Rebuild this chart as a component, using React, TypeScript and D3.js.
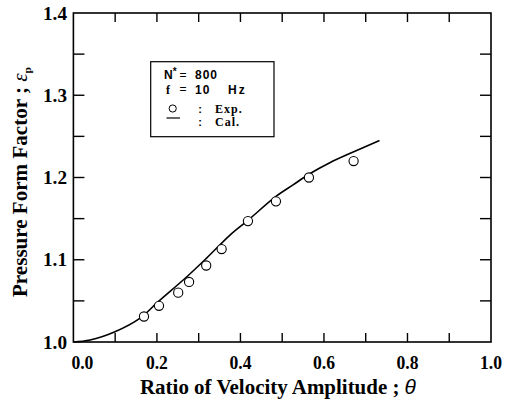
import React from "react";
import * as d3 from "d3";

const xTicks = [0, 0.2, 0.4, 0.6, 0.8, 1.0];
const yTicks = [1.0, 1.1, 1.2, 1.3, 1.4];
const xMinor = [0.1, 0.2, 0.3, 0.4, 0.5, 0.6, 0.7, 0.8, 0.9];
const yMinor = [1.05, 1.1, 1.15, 1.2, 1.25, 1.3, 1.35];

const expTheta = [0.169, 0.205, 0.251, 0.277, 0.318, 0.355, 0.418, 0.485, 0.564, 0.671];
const expEps = [1.031, 1.044, 1.060, 1.073, 1.093, 1.113, 1.147, 1.171, 1.200, 1.220];

const calTheta = [0, 0.04, 0.0995, 0.159, 0.203, 0.271, 0.319, 0.375, 0.418, 0.485, 0.526, 0.564, 0.614, 0.670, 0.733];
const calEps = [1.0, 1.0024, 1.0125, 1.0288, 1.049, 1.079, 1.102, 1.130, 1.148, 1.177, 1.191, 1.204, 1.218, 1.231, 1.245];

const W = 509, H = 399;
const L = 73.4, R = 491, T = 13, B = 342;

export default function App() {
  const x = d3.scaleLinear().domain([0, 1]).range([L, R]);
  const y = d3.scaleLinear().domain([1.0, 1.4]).range([B, T]);
  const line = d3
    .line<number>()
    .x((_, i) => x(calTheta[i]))
    .y((_, i) => y(calEps[i]))
    .curve(d3.curveCatmullRom.alpha(0.5));
  const tickLen = 9;
  const serif = "'Liberation Serif', 'DejaVu Serif', serif";
  const sans = "'Liberation Sans', Arial, sans-serif";
  return (
    <svg width={W} height={H} style={{ position: "absolute", left: 0, top: 0, background: "#fff" }}>
      <rect x={0} y={0} width={W} height={H} fill="#fff" />
      {/* frame */}
      <rect x={L} y={T} width={R - L} height={B - T} fill="none" stroke="#000" strokeWidth={1.6} />
      {/* ticks */}
      {xMinor.map((v) => (
        <g key={"xt" + v}>
          <line x1={x(v)} x2={x(v)} y1={B} y2={B - tickLen} stroke="#000" strokeWidth={1.4} />
          <line x1={x(v)} x2={x(v)} y1={T} y2={T + tickLen} stroke="#000" strokeWidth={1.4} />
        </g>
      ))}
      {yMinor.map((v) => (
        <g key={"yt" + v}>
          <line x1={L} x2={L + tickLen + 2} y1={y(v)} y2={y(v)} stroke="#000" strokeWidth={1.4} />
          <line x1={R} x2={R - tickLen - 2} y1={y(v)} y2={y(v)} stroke="#000" strokeWidth={1.4} />
        </g>
      ))}
      {/* tick labels */}
      {xTicks.map((v) => (
        <text key={"xl" + v} x={x(v) + (v === 0 ? 9 : 0)} y={369} textAnchor="middle" fontFamily={serif} fontWeight="bold" fontSize={19} textLength={22} lengthAdjust="spacingAndGlyphs">
          {v.toFixed(1)}
        </text>
      ))}
      {yTicks.map((v) => (
        <text key={"yl" + v} x={67} y={y(v) + 6.5} textAnchor="end" fontFamily={serif} fontWeight="bold" fontSize={19} textLength={24} lengthAdjust="spacingAndGlyphs">
          {v.toFixed(1)}
        </text>
      ))}
      {/* axis titles */}
      <text x={140} y={394} fontFamily={serif} fontWeight="bold" fontSize={20} textLength={276} lengthAdjust="spacingAndGlyphs">
        Ratio of Velocity Amplitude ;{" "}
        <tspan fontStyle="italic" fontWeight="normal" fontFamily={sans}>θ</tspan>
      </text>
      <text transform="translate(27,297) rotate(-90)" x={0} y={0} fontFamily={serif} fontWeight="bold" fontSize={20} textLength={230} lengthAdjust="spacingAndGlyphs">
        Pressure Form Factor ;{" "}
        <tspan fontStyle="italic" fontWeight="normal">ε</tspan>
        <tspan fontSize={11} dy={4}>p</tspan>
      </text>
      {/* curve */}
      <path d={line(calTheta) || ""} fill="none" stroke="#000" strokeWidth={1.6} />
      {/* points */}
      {expTheta.map((t, i) => (
        <circle key={"c" + i} cx={x(t)} cy={y(expEps[i])} r={4.6} fill="#fff" stroke="#000" strokeWidth={1.1} />
      ))}
      {/* legend */}
      <rect x={150.7} y={61.7} width={123.3} height={75} fill="#fff" stroke="#000" strokeWidth={1.2} />
      <g fontFamily={sans} fontWeight="bold" fontSize={12}>
        <text x={164} y={79}>N<tspan dy={-4} fontSize={10}>*</tspan></text>
        <text x={183} y={78.5} textAnchor="middle" fontWeight="normal">=</text>
        <text x={195} y={79} letterSpacing={1}>800</text>
        <text x={166} y={93.5} fontFamily={serif} fontSize={12}>f</text>
        <text x={183} y={92.5} textAnchor="middle" fontWeight="normal">=</text>
        <text x={195} y={93.5} letterSpacing={1}>10</text>
        <text x={228} y={93.5} letterSpacing={2}>Hz</text>
        <circle cx={172.7} cy={108.5} r={3.6} fill="none" stroke="#000" strokeWidth={1} />
        <text x={200} y={113} textAnchor="middle" fontSize={11}>:</text>
        <text x={215} y={113} fontFamily={serif} fontSize={12} letterSpacing={1}>Exp.</text>
        <line x1={166.5} x2={180} y1={118} y2={118} stroke="#000" strokeWidth={1.2} />
        <text x={200} y={126} textAnchor="middle" fontSize={11}>:</text>
        <text x={215} y={126} fontFamily={serif} fontSize={12} letterSpacing={1}>Cal.</text>
      </g>
    </svg>
  );
}
